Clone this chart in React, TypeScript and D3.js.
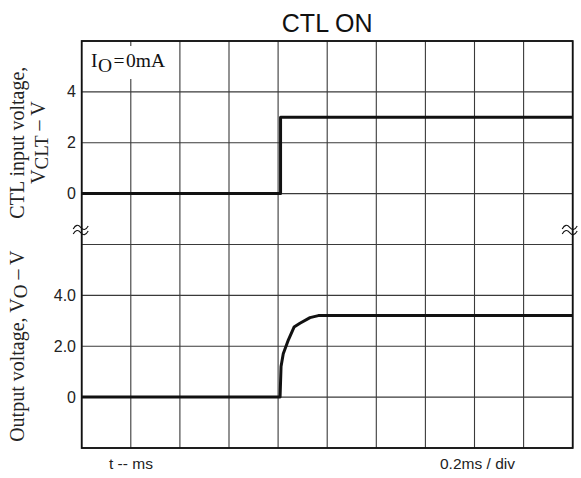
import React from "react";
import * as d3 from "d3";

// ---- data ----
const ctlTime = [0, 0.81, 0.81, 2.0];
const ctlVolt = [0, 0, 3.0, 3.0];
const outTime = [0, 0.808, 0.812, 0.821, 0.842, 0.865, 0.889, 0.93, 0.964, 2.0];
const outVolt = [0, 0, 1.2, 1.7, 2.25, 2.75, 2.9, 3.12, 3.2, 3.2];
const topTickValues = [0, 2, 4];
const topTickLabels = ["0", "2", "4"];
const botTickValues = [0, 2, 4];
const botTickLabels = ["0", "2.0", "4.0"];
const xDivisions = d3.range(0, 2.0001, 0.2);
const gridRows = d3.range(0, 9);

const W = 581;
const H = 478;
const L = 81.7, R = 572.7, T = 41, B = 448;
const MID = 244.3;

export default function App() {
  const x = d3.scaleLinear().domain([0, 2]).range([L, R]);
  const gy = d3.scaleLinear().domain([0, 8]).range([B, T]);
  const yTop = d3.scaleLinear().domain([-2, 6]).range([MID, T]);
  const yBot = d3.scaleLinear().domain([-2, 6]).range([B, MID]);

  const ctlLine = d3.line<number>().x((_, i) => x(ctlTime[i])).y((d) => yTop(d));
  const outLine = d3
    .line<number>()
    .x((_, i) => x(outTime[i]))
    .y((d) => yBot(d));

  const breakY = 230;
  const squiggle = (cx: number) =>
    [-2.6, 2.6]
      .map(
        (dy) =>
          `M${cx - 7.5},${breakY + dy + 1.5} c2.5,-4.5 5,-4.5 7.5,-1.5 s5,3 7.5,-1.5`
      )
      .join(" ");

  const sans = "Liberation Sans, Arial, sans-serif";
  const serif = "Liberation Serif, Times New Roman, serif";

  return (
    <svg
      width={W}
      height={H}
      style={{ position: "absolute", left: 0, top: 0, background: "#fff" }}
    >
      <rect x={0} y={0} width={W} height={H} fill="#fff" />
      {/* grid */}
      {xDivisions.map((t, i) => (
        <line key={"v" + i} x1={x(t)} x2={x(t)} y1={T} y2={B} stroke="#3a3a3a" strokeWidth={1.1} />
      ))}
      {gridRows.map((r) => (
        <line key={"h" + r} x1={L} x2={R} y1={gy(r)} y2={gy(r)} stroke="#3a3a3a" strokeWidth={1.1} />
      ))}
      {/* label box */}
      <rect x={L + 1} y={T + 5} width={92} height={33} fill="#fff" />
      <text x={91} y={67} fontFamily={serif} fontSize={19.5} fill="#111">
        I<tspan dx={0.5} dy={5}>O</tspan>
        <tspan dx={1.5} dy={-5}>=</tspan>
        <tspan dx={1.5}>0mA</tspan>
      </text>
      {/* frame */}
      <rect x={L} y={T} width={R - L} height={B - T} fill="none" stroke="#111" strokeWidth={1.8} />
      {/* break markers */}
      <path d={squiggle(L - 1)} fill="none" stroke="#111" strokeWidth={1.1} />
      <path d={squiggle(R - 3)} fill="none" stroke="#111" strokeWidth={1.1} />
      {/* data */}
      <path d={ctlLine(ctlVolt) || ""} fill="none" stroke="#111" strokeWidth={3} strokeLinejoin="round" />
      <path d={outLine(outVolt) || ""} fill="none" stroke="#111" strokeWidth={3} strokeLinejoin="round" />
      {/* ticks */}
      {topTickValues.map((v, i) => (
        <text key={"tt" + i} x={76} y={yTop(v)} dy="0.35em" textAnchor="end" fontFamily={sans} fontSize={16} fill="#222">
          {topTickLabels[i]}
        </text>
      ))}
      {botTickValues.map((v, i) => (
        <text key={"bt" + i} x={76} y={yBot(v)} dy="0.35em" textAnchor="end" fontFamily={sans} fontSize={16} fill="#222">
          {botTickLabels[i]}
        </text>
      ))}
      {/* title */}
      <text x={(L + R) / 2} y={31.5} textAnchor="middle" fontFamily={sans} fontSize={25} fill="#111">
        CTL ON
      </text>
      {/* y labels */}
      <text transform={`translate(24,${(T + MID) / 2}) rotate(-90)`} textAnchor="middle" fontFamily={serif} fontSize={20} fill="#222">
        CTL input voltage,
      </text>
      <text transform={`translate(45,${(T + MID) / 2}) rotate(-90)`} textAnchor="middle" fontFamily={serif} fontSize={20} fill="#222">
        V<tspan fontSize={19} dy={3}>CLT</tspan>
        <tspan dy={-3}> – V</tspan>
      </text>
      <text transform={`translate(24,${(MID + B) / 2}) rotate(-90)`} textAnchor="middle" fontFamily={serif} fontSize={20} fill="#222">
        Output voltage, V<tspan fontSize={19} dy={3}>O</tspan>
        <tspan dy={-3}> – V</tspan>
      </text>
      {/* x labels */}
      <text x={109} y={469} fontFamily={sans} fontSize={15.5} fill="#222">
        t -- ms
      </text>
      <text x={440} y={469} fontFamily={sans} fontSize={15.5} fill="#222">
        0.2ms / div
      </text>
    </svg>
  );
}
